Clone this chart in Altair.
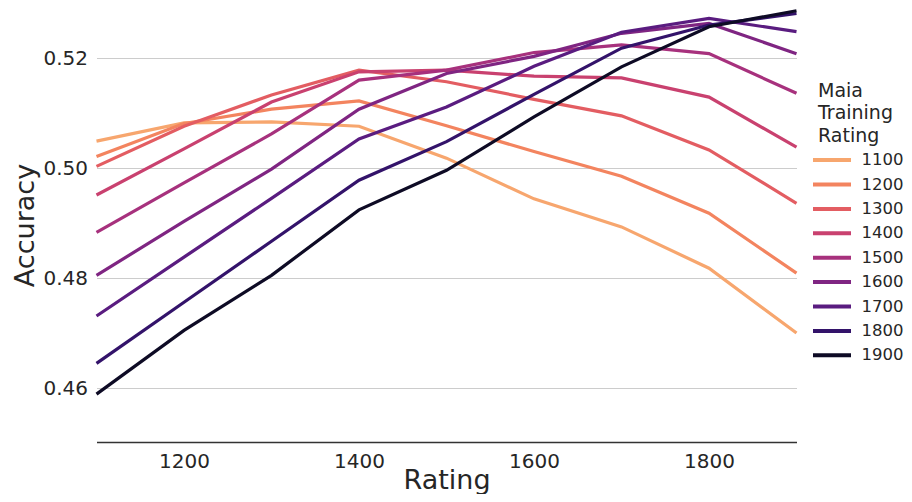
import altair as alt
import pandas as pd

ratings = [1100, 1200, 1300, 1400, 1500, 1600, 1700, 1800, 1900]

maia_levels = ["1100", "1200", "1300", "1400", "1500", "1600", "1700", "1800", "1900"]

acc_1100 = [0.5049, 0.5082, 0.5084, 0.5076, 0.5018, 0.4944, 0.4893, 0.4818, 0.4700]
acc_1200 = [0.5021, 0.5081, 0.5107, 0.5122, 0.5077, 0.5030, 0.4985, 0.4918, 0.4809]
acc_1300 = [0.5003, 0.5076, 0.5133, 0.5178, 0.5157, 0.5125, 0.5095, 0.5033, 0.4936]
acc_1400 = [0.4951, 0.5035, 0.5120, 0.5175, 0.5178, 0.5167, 0.5164, 0.5129, 0.5038]
acc_1500 = [0.4883, 0.4973, 0.5062, 0.5160, 0.5178, 0.5210, 0.5224, 0.5208, 0.5136]
acc_1600 = [0.4805, 0.4903, 0.4998, 0.5107, 0.5172, 0.5203, 0.5245, 0.5263, 0.5208]
acc_1700 = [0.4731, 0.4838, 0.4945, 0.5053, 0.5111, 0.5185, 0.5247, 0.5272, 0.5248]
acc_1800 = [0.4645, 0.4756, 0.4867, 0.4978, 0.5048, 0.5134, 0.5218, 0.5260, 0.5281]
acc_1900 = [0.4589, 0.4705, 0.4805, 0.4924, 0.4996, 0.5093, 0.5184, 0.5257, 0.5286]

series = [acc_1100, acc_1200, acc_1300, acc_1400, acc_1500,
          acc_1600, acc_1700, acc_1800, acc_1900]

colors = ["#f7a66e", "#f3845f", "#e35d62", "#c9416f", "#a7317d",
          "#7f2582", "#5a1c80", "#33136a", "#0e0b25"]

x_ticks = [1200, 1400, 1600, 1800]
y_ticks = [0.46, 0.48, 0.50, 0.52]

rows = []
for level, vals in zip(maia_levels, series):
    for r, v in zip(ratings, vals):
        rows.append({"Rating": r, "Accuracy": v, "Maia": level})
df = pd.DataFrame(rows)

FONT = "DejaVu Sans"
TXT = "#262626"

chart = alt.Chart(df).mark_line(strokeWidth=3.2, clip=False).encode(
    x=alt.X(
        "Rating:Q",
        scale=alt.Scale(domain=[1100, 1900], nice=False, zero=False),
        axis=alt.Axis(
            title="Rating", values=x_ticks, format="d", grid=False,
            ticks=False, tickSize=0, labelPadding=9,
            domainColor="#333333", domainWidth=1.3,
            labelFontSize=20, labelColor=TXT, labelFont=FONT,
            titleFontSize=27, titleFontWeight="normal", titleColor=TXT,
            titleFont=FONT, titleBaseline="alphabetic", titleY=46,
        ),
    ),
    y=alt.Y(
        "Accuracy:Q",
        scale=alt.Scale(domain=[0.4502, 0.5291], nice=False, zero=False),
        axis=alt.Axis(
            title="Accuracy", values=y_ticks, format=".2f", domain=False,
            ticks=False, tickSize=0, labelPadding=9,
            grid=True, gridColor="#cccccc", gridWidth=1.2,
            labelFontSize=20, labelColor=TXT, labelFont=FONT,
            titleFontSize=27, titleFontWeight="normal", titleColor=TXT,
            titleFont=FONT, titleBaseline="alphabetic", titleAngle=270,
            titleX=-63.5, titleY=217, titleAlign="center",
        ),
    ),
    color=alt.Color(
        "Maia:N",
        sort=maia_levels,
        scale=alt.Scale(domain=maia_levels, range=colors),
        legend=alt.Legend(
            title=["Maia", "Training", "Rating"],
            orient="none", legendX=721.5, legendY=73.6,
            symbolType="M-2,0H2", symbolSize=361,
            symbolStrokeWidth=4, symbolOffset=2.5,
            labelFontSize=16.5, labelColor=TXT, labelFont=FONT, labelOffset=18,
            titleFontSize=19, titleFontWeight="normal", titleColor=TXT,
            titleFont=FONT, titleLineHeight=22.5, titlePadding=3,
            rowPadding=4.4, padding=0,
        ),
    ),
).properties(
    width=700,
    height=434,
    autosize=alt.AutoSizeParams(type="none"),
    padding={"left": 88.5, "top": 0, "right": 107.5, "bottom": 52},
    background="white",
).configure_view(stroke=None)

chart.save("out.html", embed_options={"renderer": "svg", "actions": False})
